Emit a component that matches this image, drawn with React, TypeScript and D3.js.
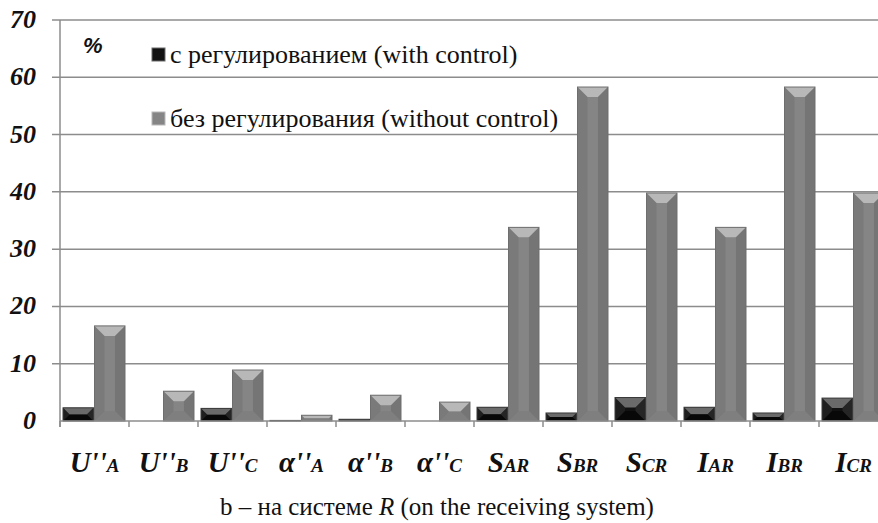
import * as d3 from "d3";

// categories: main symbol + small (subscript-like) part
const catMain: string[] = ["U''", "U''", "U''", "\u03B1''", "\u03B1''", "\u03B1''", "S", "S", "S", "I", "I", "I"];
const catSub: string[] = ["A", "B", "C", "A", "B", "C", "AR", "BR", "CR", "AR", "BR", "CR"];

const withControl: number[] = [2.3, 0, 2.2, 0.1, 0.3, 0, 2.4, 1.4, 4.1, 2.4, 1.4, 4.0];
const withoutControl: number[] = [16.6, 5.2, 8.9, 1.0, 4.5, 3.3, 33.8, 58.3, 39.8, 33.8, 58.3, 39.8];

const seriesNames: string[] = ["с регулированием (with control)", "без регулирования (without control)"];
const yTicks: number[] = [0, 10, 20, 30, 40, 50, 60, 70];

const W = 878;
const H = 523;
const SERIF = "\"Times New Roman\", \"Liberation Serif\", Tinos, serif";
const SANS = "Arial, \"Liberation Sans\", sans-serif";

const left = 60;
const right = 888; // plot runs past the picture edge, as in the original
const yScale = d3.scaleLinear().domain([0, 70]).range([421, 20]);
const x0 = d3.scaleBand<number>()
    .domain(d3.range(catMain.length))
    .range([left, right])
    .paddingInner(0.087)
    .paddingOuter(0.0435);
const x1 = d3.scaleBand<number>().domain([0, 1]).range([0, x0.bandwidth()]).padding(0);

const colors = [
    { base: "#111", top: "#6a6a6a", bottom: "#000", side: "#333", edge: "#3a3a3a" },
    { base: "#858585", top: "#b8b8b8", bottom: "#7a7a7a", side: "#6a6a6a", edge: "#6e6e6e" },
];

const pts = (p: number[][]) => p.map(q => q.join(",")).join(" ");

function Bar({ i, s, v }: { i: number; s: number; v: number }) {
    if (v <= 0) return null;
    const x = x0(i)! + x1(s)!;
    const w = x1.bandwidth() - 1;
    const y = yScale(v);
    const h = yScale(0) - y;
    const c = colors[s];
    const d = Math.min(10, h / 2, w / 2);
    return (
        <g>
            <rect x={x} y={y} width={w} height={h} fill={c.base} />
            {h >= 1.5 && (
                <>
                    <polygon points={pts([[x, y], [x + w, y], [x + w - d, y + d], [x + d, y + d]])} fill={c.top} />
                    <polygon points={pts([[x, y + h], [x + w, y + h], [x + w - d, y + h - d], [x + d, y + h - d]])} fill={c.bottom} opacity={0.5} />
                    <polygon points={pts([[x, y], [x + d, y + d], [x + d, y + h - d], [x, y + h]])} fill={c.side} opacity={0.4} />
                    <polygon points={pts([[x + w, y], [x + w - d, y + d], [x + w - d, y + h - d], [x + w, y + h]])} fill={c.side} opacity={0.6} />
                </>
            )}
            <rect x={x} y={y} width={w} height={h} fill="none" stroke={c.edge} strokeWidth={1} />
        </g>
    );
}

export default function App() {
    const all = [withControl, withoutControl];
    return (
        <div style={{ position: "absolute", left: 0, top: 0, width: W, height: H, overflow: "hidden", background: "#fff" }}>
            <svg width={W} height={H} fontFamily={SERIF}>
                {/* grid */}
                {yTicks.slice(1).map(t => (
                    <line key={t} x1={52} x2={right} y1={yScale(t)} y2={yScale(t)} stroke="#8c8c8c" strokeWidth={1.5} />
                ))}
                <line x1={left} x2={left} y1={yScale(70)} y2={yScale(0) + 6} stroke="#8c8c8c" strokeWidth={1.5} />

                {/* y labels */}
                {yTicks.map(t => (
                    <text key={t} x={36} y={yScale(t) + 8} textAnchor="end" fill="#111"
                        fontFamily={SERIF} fontWeight="bold" fontStyle="italic" fontSize={26}>{t}</text>
                ))}

                {/* bars */}
                {catMain.map((_, i) => all.map((vals, s) => <Bar key={`${i}-${s}`} i={i} s={s} v={vals[i]} />))}

                {/* x axis */}
                <line x1={left} x2={right} y1={yScale(0)} y2={yScale(0)} stroke="#8c8c8c" strokeWidth={1.5} />
                {d3.range(catMain.length + 1).map(k => (
                    <line key={k} x1={left + k * x0.step()} x2={left + k * x0.step()} y1={yScale(0)} y2={yScale(0) + 6} stroke="#8c8c8c" strokeWidth={1.5} />
                ))}

                {/* category labels */}
                {catMain.map((m, i) => (
                    <text key={i} x={x0(i)! + x0.bandwidth() / 2} y={472} textAnchor="middle" fill="#111"
                        fontFamily={SERIF} fontWeight="bold" fontStyle="italic">
                        <tspan fontSize={29}>{m}</tspan>
                        <tspan fontSize={19}>{catSub[i]}</tspan>
                    </text>
                ))}

                {/* % mark */}
                <text x={83} y={53} fill="#111" fontFamily={SANS} fontWeight="bold" fontStyle="italic" fontSize={22}>%</text>

                {/* legend */}
                {seriesNames.map((n, i) => (
                    <g key={n} transform={`translate(152,${48 + i * 64})`}>
                        <rect width={13} height={13} fill={colors[i].base} stroke={colors[i].top} />
                        <text x={18} y={15} fill="#111" fontFamily={SERIF} fontSize={26}>{n}</text>
                    </g>
                ))}

                {/* caption */}
                <text x={437} y={515} textAnchor="middle" fill="#111" fontFamily={SERIF} fontSize={25}>
                    <tspan>b – на системе </tspan>
                    <tspan fontStyle="italic">R</tspan>
                    <tspan> (on the receiving system)</tspan>
                </text>
            </svg>
        </div>
    );
}
